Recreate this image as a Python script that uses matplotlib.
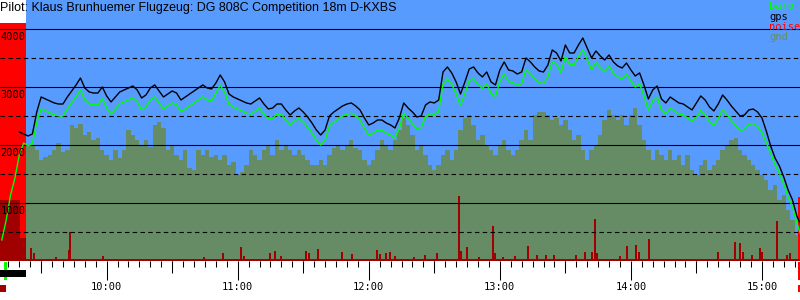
import matplotlib
matplotlib.use("Agg")
import matplotlib.pyplot as plt
import matplotlib.transforms as mtransforms
from matplotlib.patches import Rectangle
import numpy as np

# all times in minutes after 9:00
title = "Pilot: Klaus Brunhuemer Flugzeug: DG 808C Competition 18m D-KXBS"

gps_min = np.arange(20, 380, 2)
gps_alt = [2228, 2193, 2159, 2193, 2573, 2832, 2798, 2763, 2729, 2711,
           2711, 2832, 2936, 3040, 3160, 2988, 2919, 2901, 2901, 3005,
           2850, 2746, 2832, 2919, 2953, 2988, 3022, 2953, 2815, 2867,
           2988, 3040, 2936, 2832, 2884, 2936, 2901, 2780, 2832, 2884,
           2936, 2988, 3040, 2988, 2970, 3074, 3212, 3091, 2884, 2832,
           2798, 2763, 2729, 2711, 2763, 2815, 2711, 2625, 2642, 2711,
           2711, 2608, 2521, 2591, 2642, 2573, 2487, 2383, 2262, 2176,
           2262, 2504, 2573, 2625, 2677, 2711, 2729, 2677, 2608, 2470,
           2349, 2383, 2435, 2435, 2383, 2349, 2297, 2470, 2729, 2642,
           2573, 2487, 2504, 2694, 2746, 2729, 2780, 3264, 3350, 3247,
           3091, 2884, 3091, 3316, 3350, 3247, 3178, 3264, 3091, 3040,
           3299, 3437, 3299, 3281, 3229, 3264, 3506, 3437, 3350, 3281,
           3264, 3385, 3644, 3592, 3454, 3730, 3592, 3592, 3730, 3851,
           3679, 3506, 3627, 3540, 3471, 3558, 3437, 3368, 3333, 3419,
           3299, 3195, 3247, 3040, 2798, 2953, 3022, 2798, 2729, 2832,
           2780, 2729, 2711, 2660, 2608, 2729, 2850, 2780, 2660, 2591,
           2711, 2867, 2780, 2677, 2591, 2504, 2521, 2608, 2625, 2573,
           2470, 2245, 1986, 1779, 1641, 1451, 1226, 1053, 777, 600]

baro_min = np.arange(12, 380, 2)
baro_alt = [363, 708, 1140, 1433, 1831, 2038,
            1989, 2023, 2403, 2627, 2593, 2558, 2524, 2506, 2506, 2627,
            2731, 2835, 2955, 2783, 2714, 2696, 2696, 2800, 2645, 2541,
            2627, 2714, 2748, 2783, 2817, 2748, 2610, 2662, 2783, 2835,
            2731, 2627, 2679, 2731, 2696, 2575, 2627, 2679, 2731, 2783,
            2835, 2783, 2765, 2899, 3037, 2916, 2709, 2657, 2623, 2588,
            2554, 2536, 2588, 2640, 2536, 2450, 2467, 2536, 2536, 2433,
            2346, 2416, 2467, 2398, 2312, 2208, 2087, 2001, 2087, 2329,
            2398, 2450, 2502, 2536, 2554, 2502, 2433, 2295, 2174, 2208,
            2260, 2260, 2208, 2174, 2122, 2295, 2554, 2467, 2373, 2287,
            2304, 2494, 2546, 2529, 2580, 3064, 3150, 3047, 2891, 2684,
            2891, 3116, 3150, 3047, 2978, 3064, 2891, 2840, 3099, 3237,
            3099, 3081, 3029, 3064, 3306, 3237, 3150, 3081, 3064, 3185,
            3444, 3392, 3254, 3530, 3392, 3392, 3530, 3651, 3479, 3306,
            3427, 3340, 3271, 3368, 3247, 3178, 3143, 3229, 3109, 3005,
            3057, 2850, 2608, 2763, 2832, 2608, 2539, 2642, 2590, 2539,
            2521, 2470, 2418, 2479, 2600, 2530, 2410, 2341, 2461, 2617,
            2530, 2427, 2341, 2254, 2271, 2358, 2375, 2323, 2220, 2045,
            1866, 1659, 1521, 1331, 1106, 933, 657, 430]

gnd_min = np.arange(24, 380, 2)
gnd_alt = [1986, 1986, 1917, 1744, 1796, 1831, 1917, 2038, 1882, 1917,
           2349, 2297, 2366, 2176, 2228, 2090, 2124, 1917, 1831, 1744,
           1917, 1779, 1917, 2262, 2176, 2090, 2003, 2090, 1969, 2349,
           2401, 2297, 1917, 2003, 1831, 1744, 1917, 1606, 1572, 1917,
           1831, 1917, 1796, 1831, 1744, 1831, 1658, 1710, 1485, 1537,
           1658, 1917, 1831, 1744, 1917, 2003, 1831, 2090, 1917, 2003,
           1917, 1831, 1917, 1831, 1744, 1658, 1658, 1744, 1658, 1831,
           1951, 2003, 1917, 2003, 2090, 1951, 1917, 1744, 1658, 1744,
           1917, 2090, 2003, 1917, 2090, 2262, 2470, 2349, 2176, 1917,
           2003, 1831, 1658, 1572, 1658, 1831, 1917, 1744, 1917, 2262,
           2470, 2521, 2349, 2090, 2176, 2003, 1917, 1831, 2003, 2090,
           1917, 1831, 1917, 2090, 2262, 2090, 2521, 2573, 2573, 2521,
           2435, 2470, 2349, 2435, 2262, 2090, 2176, 1917, 1744, 1917,
           2003, 2176, 2435, 2608, 2521, 2435, 2521, 2349, 2521, 2642,
           2349, 2090, 1917, 1744, 1917, 1831, 1744, 1917, 1744, 1831,
           1658, 1831, 1572, 1485, 1658, 1744, 1572, 1658, 1744, 1917,
           2003, 2090, 2124, 1917, 1831, 1744, 1658, 1572, 1485, 1399,
           1226, 1313, 1053, 1140, 881, 708, 449, 363]

noise_min = [25.4, 26.7, 36.8, 42.8, 43.2, 58.3, 104.6, 113.3, 121.5, 122.9,
             134.8, 137.1, 139.8, 151.3, 152.6, 156.8, 167.7, 172.3, 183.8, 185.1,
             187.9, 189.7, 192.0, 200.7, 205.7, 211.2, 221.3, 222.2, 225.0, 230.5,
             236.9, 237.8, 241.5, 246.9, 252.9, 257.0, 261.1, 264.8, 274.9, 279.0,
             282.2, 283.6, 284.5, 295.0, 298.2, 302.3, 303.7, 308.3, 339.9, 347.7,
             349.9, 351.3, 355.4, 359.1, 360.0, 366.9, 371.5, 372.8]
noise_enl = [55, 34, 17, 46, 122, 21, 17, 34, 59, 21,
             34, 42, 21, 42, 34, 50, 38, 29, 46, 29,
             34, 38, 21, 17, 25, 34, 273, 42, 59, 17,
             147, 34, 17, 21, 63, 25, 25, 25, 25, 38,
             38, 176, 34, 21, 63, 67, 38, 92, 38, 80,
             76, 38, 25, 55, 38, 168, 25, 34]

engine_min = [11.2, 23.1]      # engine run at take-off
engine_enl = 1000
engine_low_edges = [11.2, 20.3, 23.1]
engine_low_alt = [1050, 400]
takeoff_min = 13.0
landing_min = 376.9
landing_enl = 270

hour_min = [60, 120, 180, 240, 300, 360]
hour_labels = ["10:00", "11:00", "12:00", "13:00", "14:00", "15:00"]

SKY = "#589bff"
GND = "#668c66"
RED = "#ff0000"
DRED = "#a00000"
GREEN = "#00ff00"
MONO = "DejaVu Sans Mono"
ENL_M = 4.11  # metres of chart per ENL unit

t0, t1 = 11.17, 377.43

fig = plt.figure(figsize=(8, 3), dpi=100)
ax = fig.add_axes([0, 39 / 300, 1, 261 / 300])
ax.set_facecolor("white")
ax.set_xlim(t0, t1)
ax.set_ylim(0, 4507)
for s in ax.spines.values():
    s.set_visible(False)

ax.axvspan(engine_min[1], t1, color=SKY, lw=0, zorder=0)
ax.bar(gnd_min, gnd_alt, width=2, color=GND, lw=0, zorder=1)
ax.bar(engine_min[0], engine_enl * ENL_M, width=engine_min[1] - engine_min[0],
       align="edge", color=RED, lw=0, zorder=1)
ax.bar(engine_low_edges[:-1], engine_low_alt, width=np.diff(engine_low_edges),
       align="edge", color=DRED, lw=0, zorder=1)
ax.bar(noise_min, np.array(noise_enl) * ENL_M, width=0.6, color=DRED, lw=0, zorder=2)
ax.bar(landing_min, landing_enl * ENL_M, width=1.0, color=RED, lw=0, zorder=2)
ax.axhline(0, color=DRED, lw=2.8, zorder=2)

for v in [1000, 2000, 3000, 4000]:
    ax.axhline(v, color="black", lw=0.8, zorder=3)
for v in [500, 1500, 2500, 3500]:
    ax.axhline(v, color="black", lw=0.8, ls=(0, (4, 3)), zorder=3)

ax.plot(baro_min, baro_alt, color=GREEN, lw=1.0, zorder=4)
ax.plot(gps_min, gps_alt, color="black", lw=1.0, zorder=5)

for v in [1000, 2000, 3000, 4000]:
    ax.annotate(str(v), (0, v), xycoords=("axes fraction", "data"),
                xytext=(0.3, -1.8), textcoords="offset points",
                ha="left", va="top", fontsize=7.5, family=MONO, zorder=6)

ax.set_yticks([])
ax.set_xticks(hour_min, hour_labels)
ax.set_xticks(np.arange(15, 377, 5), minor=True)
ax.tick_params(axis="x", which="major", length=13.7, width=0.75, pad=1.5,
               labelsize=7.5)
ax.tick_params(axis="x", which="minor", length=4.3, width=0.75)
for lab in ax.get_xticklabels():
    lab.set_family(MONO)

trans = mtransforms.blended_transform_factory(ax.transData, ax.transAxes)
ax.vlines(np.arange(30, 377, 60), -12 / 261, 0, transform=trans,
          color="black", lw=0.75, clip_on=False)

# event marks under the time axis
ax.add_patch(Rectangle((takeoff_min, -19 / 261), 1.4, 18 / 261, transform=trans,
                       color=GREEN, lw=0, clip_on=False))
ax.add_patch(Rectangle((engine_min[0], -16 / 261), engine_min[1] - engine_min[0],
                       7 / 261, transform=trans, color="black", lw=0, clip_on=False))
ax.add_patch(Rectangle((engine_min[0], -31 / 261), 2.7, 7 / 261, transform=trans,
                       color=DRED, lw=0, clip_on=False))
ax.add_patch(Rectangle((landing_min - 0.4, -19 / 261), 1.4, 18 / 261, transform=trans,
                       color=RED, lw=0, clip_on=False))
ax.add_patch(Rectangle((landing_min - 0.4, -31 / 261), 1.4, 7 / 261, transform=trans,
                       color=RED, lw=0, clip_on=False))

fig.text(0.0, 1 - 8 / 300, title, family="Liberation Sans", fontsize=9,
         ha="left", va="center")

legend = [("baro", GREEN), ("gps", "black"), ("noise", RED), ("gnd", GND)]
for i, (name, col) in enumerate(legend):
    fig.text(769 / 800, 1 - (6 + 10.5 * i) / 300, name, color=col, family=MONO,
             fontsize=7.5, ha="left", va="center")

fig.savefig("out.png", dpi=100)
